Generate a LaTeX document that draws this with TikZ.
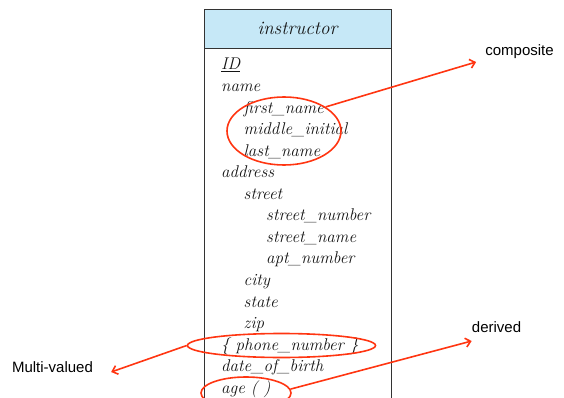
\documentclass[tikz,border=0pt]{standalone}
\usepackage{fontspec}
\newfontfamily\labelfont{Liberation Sans}
\usetikzlibrary{arrows.meta,positioning,shapes.geometric}
\definecolor{cred}{HTML}{FF3511}
\definecolor{cheadbg}{HTML}{C6E8F7}
\definecolor{cborder}{HTML}{333333}
\definecolor{ctext}{HTML}{141414}

\begin{document}
\begin{tikzpicture}[
    x=1pt, y=-1pt,
    attr/.style={anchor=base west, inner sep=0pt, text=ctext,
        font=\fontsize{17}{20}\selectfont\itshape},
    markring/.style={ellipse, draw=cred, line width=1.6pt, inner sep=0pt},
    pointer/.style={-{Straight Barb[length=5pt,width=9pt]}, line width=1.6pt, cred},
    tag/.style={font=\labelfont\fontsize{15}{18}\selectfont, inner sep=2pt, text=black},
]
\clip (0,0) rectangle (564,398);

% ============================================================
% ENTITY BOX
% ============================================================
\node[draw=cborder, fill=cheadbg, line width=0.8pt,
    minimum width=187pt, minimum height=39pt, inner sep=0pt,
    font=\fontsize{19}{22}\selectfont\itshape, text=ctext] (head) at (297.5,28.5) {instructor};
\node[draw=cborder, line width=0.8pt, minimum width=187pt, minimum height=400pt,
    inner sep=0pt, anchor=north] (body) at (head.south) {};

% attributes: name / indent level / row / text
\foreach \id/\lvl/\row/\txt in {
    id/0/0/\underline{ID}, name/0/1/name,
    fname/1/2/first\_name, minit/1/3/middle\_initial, lname/1/4/last\_name,
    address/0/5/address, street/1/6/street,
    stnum/2/7/street\_number, stname/2/8/street\_name, aptnum/2/9/apt\_number,
    city/1/10/city, state/1/11/state, zip/1/12/zip,
    phone/0/13/\{ phone\_number \}, dob/0/14/date\_of\_birth, age/0/15/age ( )} {
    \node[attr] (\id) at ({221+22.5*\lvl},{70+21.55*\row}) {\txt};
}

% ============================================================
% MARKS
% ============================================================
\node[markring, minimum width=114pt, minimum height=68pt] (compring) at (284,131) {};
\node[markring, minimum width=188pt, minimum height=24pt] (phonering) at (281.5,345.5) {};
\node[markring, minimum width=90pt, minimum height=32pt] (agering) at (246,393) {};

\node[tag] (composite) at (519.5,52) {composite};
\node[tag] (derived) at (496.5,327) {derived};
\node[tag] (multi) at (52.5,367) {Multi-valued};

\draw[pointer] (compring.30) -- ([xshift=-7pt,yshift=-10pt]composite.west);
\draw[pointer] (phonering.west) -- ([xshift=16pt,yshift=-5pt]multi.east);
\draw[pointer] (agering.5) -- ([xshift=2pt,yshift=-14pt]derived.west);

\end{tikzpicture}
\end{document}
